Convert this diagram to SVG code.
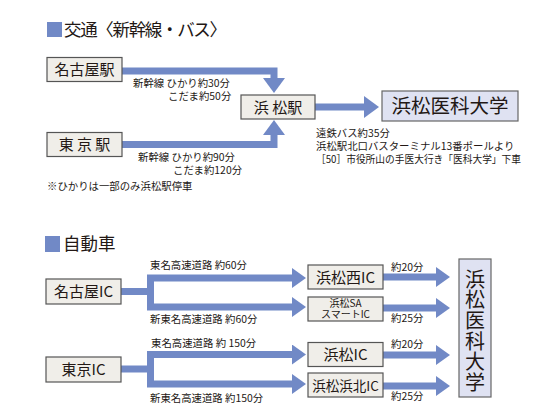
<svg xmlns="http://www.w3.org/2000/svg" width="550" height="420" viewBox="0 0 550 420">
<defs>
<style>
text{font-family:"Noto Sans CJK JP","Noto Sans",sans-serif;fill:#231815}
.box{fill:#f0eee9;stroke:#555;stroke-width:1.2}
.dest{fill:#dfe2f2;stroke:#666;stroke-width:1.2}
.hd{font-size:17.5px}
.nd{font-size:15px;text-anchor:middle}
.lb{font-size:10.4px}
.sm{font-size:10px;text-anchor:middle}
.ln{fill:none;stroke:#7189c6;stroke-width:7;stroke-linejoin:miter}
.sq{fill:#7189c6}
</style>
<marker id="ah" markerUnits="userSpaceOnUse" markerWidth="15" markerHeight="22" viewBox="0 0 15 22" refX="0" refY="11" orient="auto">
<path d="M0,0 L15,11 L0,22 z" fill="#7189c6"/>
</marker>
<marker id="ahs" markerUnits="userSpaceOnUse" markerWidth="14" markerHeight="20" viewBox="0 0 14 20" refX="0" refY="10" orient="auto">
<path d="M0,0 L14,10 L0,20 z" fill="#7189c6"/>
</marker>
</defs>
<rect width="550" height="420" fill="#fff"/>

<g id="header1">
<rect class="sq" x="47" y="22" width="15" height="15"/>
<text class="hd" x="64" y="36" textLength="163" lengthAdjust="spacing">交通〈新幹線・バス〉</text>
</g>

<g id="connectors">
<path class="ln" d="M122,71 H274 V78" marker-end="url(#ah)"/>
<path class="ln" d="M122,144.5 H274 V135" marker-end="url(#ah)"/>
<path class="ln" d="M315,107 H364" marker-end="url(#ah)"/>

<path class="ln" d="M121,291.5 H150.5"/>
<path class="ln" d="M150.5,295 V278 H292" marker-end="url(#ahs)"/>
<path class="ln" d="M150.5,288 V307 H292" marker-end="url(#ahs)"/>
<path class="ln" d="M121,369 H150.5"/>
<path class="ln" d="M150.5,372 V354.5 H292" marker-end="url(#ahs)"/>
<path class="ln" d="M150.5,366 V384 H292" marker-end="url(#ahs)"/>

<path class="ln" d="M383,277 H436" marker-end="url(#ahs)"/>
<path class="ln" d="M383,308 H436" marker-end="url(#ahs)"/>
<path class="ln" d="M383,355 H436" marker-end="url(#ahs)"/>
<path class="ln" d="M383,386 H436" marker-end="url(#ahs)"/>
</g>

<g id="nagoya-st">
<rect class="box" x="47" y="57.5" width="75" height="24"/>
<text class="nd" x="84.5" y="75">名古屋駅</text>
</g>
<g id="tokyo-st">
<rect class="box" x="47" y="132.5" width="75" height="24"/>
<text class="nd" x="84.5" y="150">東 京 駅</text>
</g>
<g id="hamamatsu-st">
<rect class="box" x="241" y="95" width="74" height="24"/>
<text class="nd" x="278" y="112.5">浜 松駅</text>
</g>
<g id="univ-top">
<rect class="dest" x="382" y="91" width="136" height="30"/>
<text x="450" y="113" style="font-size:19.5px;text-anchor:middle">浜松医科大学</text>
</g>

<g id="labels-train">
<text class="lb" x="133" y="87">新幹線 ひかり約30分</text>
<text class="lb" x="168" y="100">こだま約50分</text>
<text class="lb" x="138" y="161">新幹線 ひかり約90分</text>
<text class="lb" x="173" y="174">こだま約120分</text>
<text class="lb" x="47" y="190">※ひかりは一部のみ浜松駅停車</text>
<text class="lb" x="316" y="137">遠鉄バス約35分</text>
<text class="lb" x="316" y="150">浜松駅北口バスターミナル13番ポールより</text>
<text class="lb" x="316" y="163" textLength="205" lengthAdjust="spacingAndGlyphs">［50］市役所山の手医大行き「医科大学」下車</text>
</g>

<g id="header2">
<rect class="sq" x="45" y="236" width="15" height="16"/>
<text class="hd" x="63" y="250">自動車</text>
</g>

<g id="nagoya-ic">
<rect class="box" x="46" y="279" width="75" height="25"/>
<text class="nd" x="83.5" y="297">名古屋IC</text>
</g>
<g id="tokyo-ic">
<rect class="box" x="46" y="357" width="75" height="25"/>
<text class="nd" x="83.5" y="375">東京IC</text>
</g>
<g id="hamamatsu-nishi-ic">
<rect class="box" x="308" y="265" width="75" height="24"/>
<text class="nd" x="345.5" y="282.5">浜松西IC</text>
</g>
<g id="hamamatsu-sa">
<rect class="box" x="308" y="297" width="75" height="24"/>
<text class="sm" x="345.5" y="306.5">浜松SA</text>
<text class="sm" x="345.5" y="317.5">スマートIC</text>
</g>
<g id="hamamatsu-ic">
<rect class="box" x="308" y="342.5" width="75" height="24"/>
<text class="nd" x="345.5" y="360">浜松IC</text>
</g>
<g id="hamamatsu-hamakita-ic">
<rect class="box" x="308" y="373" width="75" height="24"/>
<text x="345.5" y="390.5" style="font-size:13.5px;text-anchor:middle">浜松浜北IC</text>
</g>
<g id="univ-right">
<rect class="dest" x="459" y="259" width="32" height="138"/>
<text x="475" y="269" style="font-size:20px;writing-mode:vertical-rl;letter-spacing:0.7px">浜松医科大学</text>
</g>

<g id="labels-car">
<text class="lb" x="150" y="269">東名高速道路 約60分</text>
<text class="lb" x="150" y="323">新東名高速道路 約60分</text>
<text class="lb" x="151" y="347">東名高速道路 約 150分</text>
<text class="lb" x="150" y="402">新東名高速道路 約150分</text>
<text class="lb" x="391" y="271">約20分</text>
<text class="lb" x="391" y="322">約25分</text>
<text class="lb" x="391" y="348">約20分</text>
<text class="lb" x="391" y="400">約25分</text>
</g>
</svg>
